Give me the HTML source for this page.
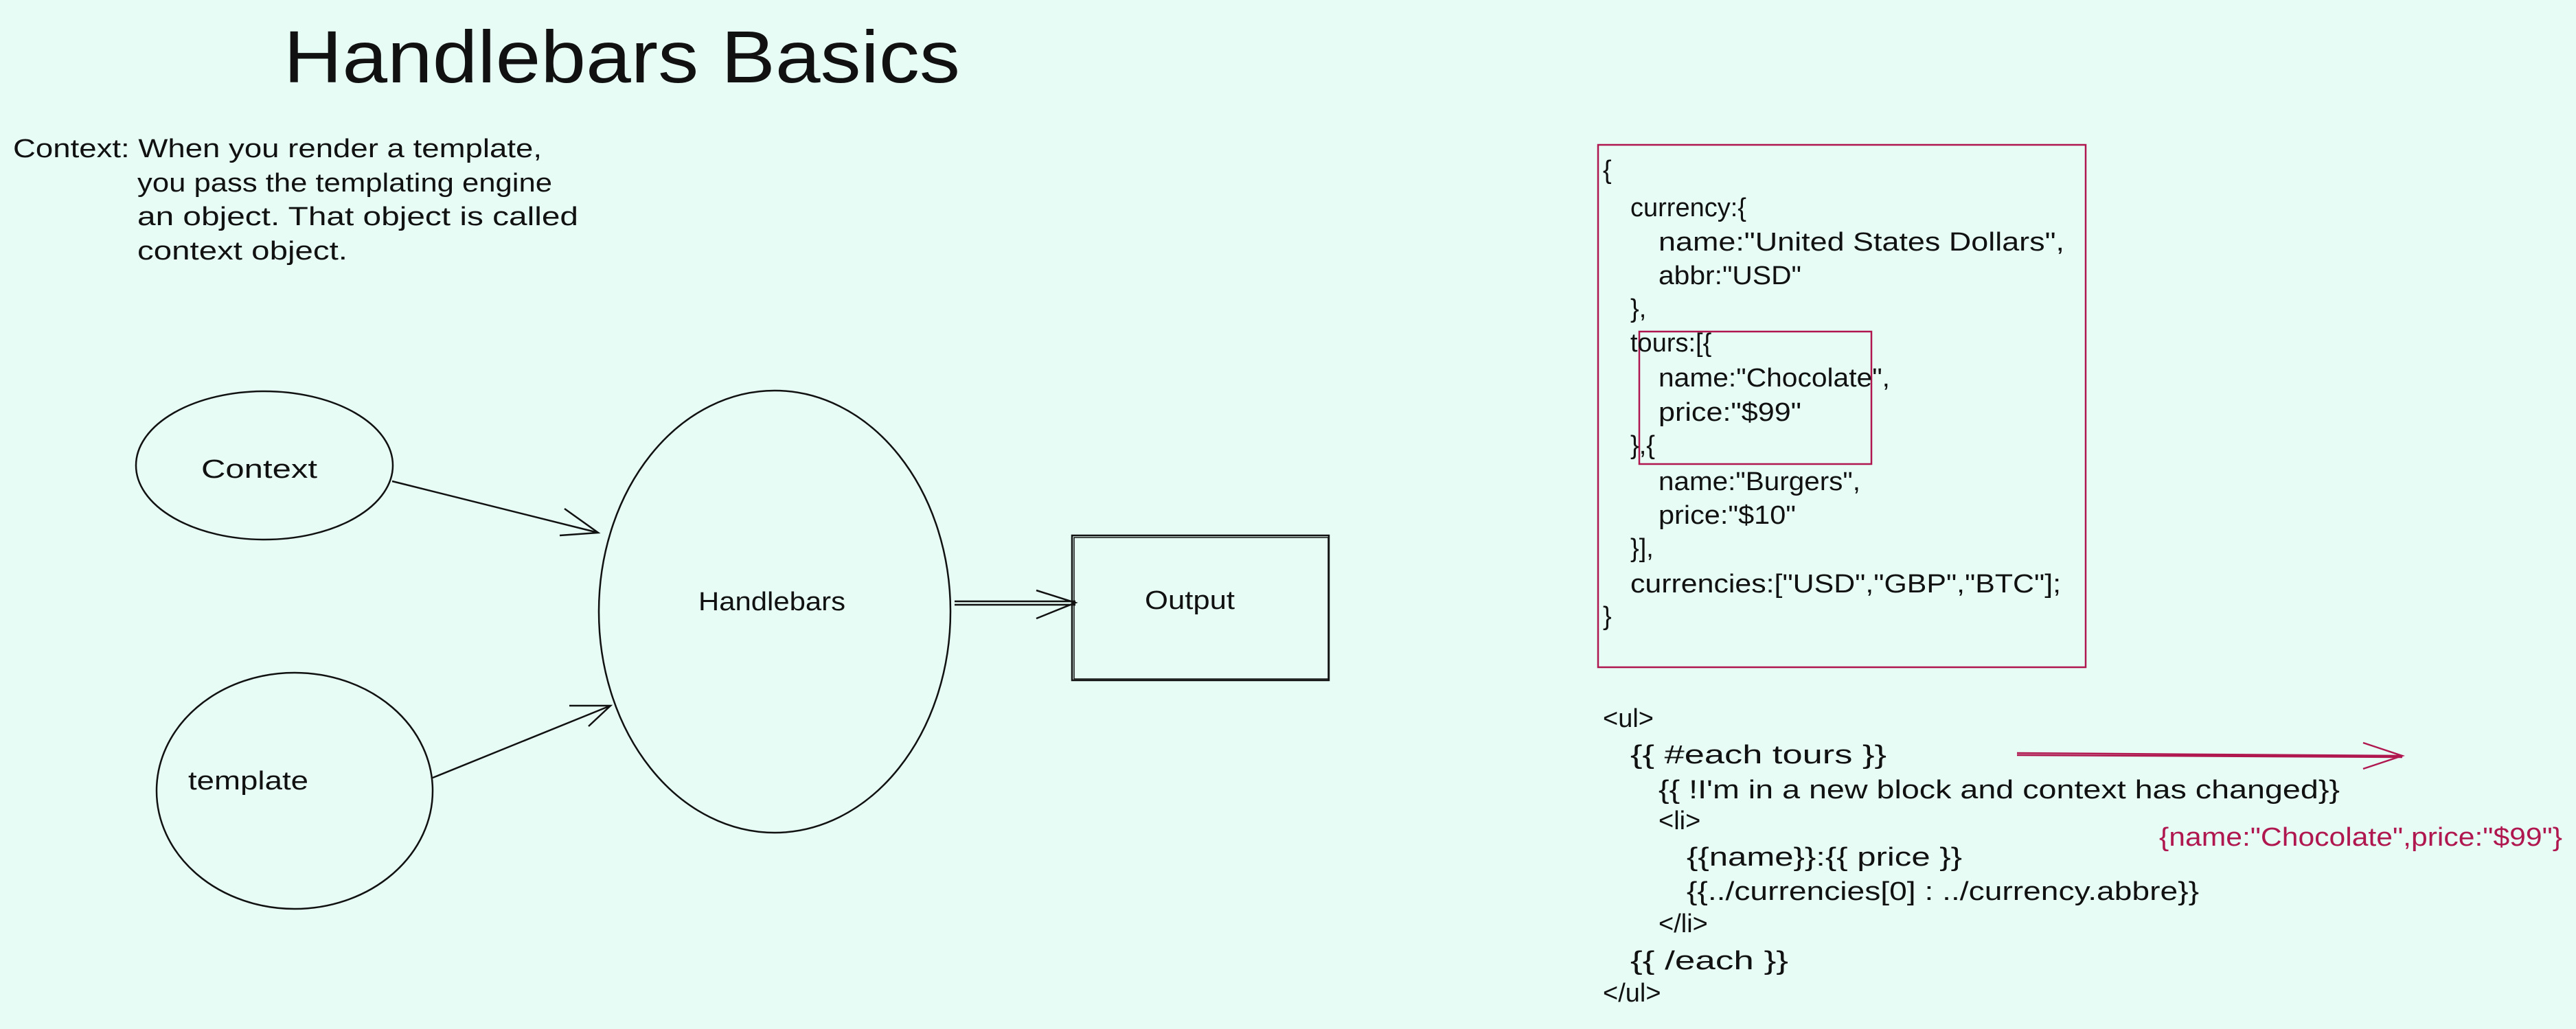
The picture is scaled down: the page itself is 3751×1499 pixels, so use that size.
<!DOCTYPE html>
<html><head><meta charset="utf-8"><style>
html,body{margin:0;padding:0;background:#e6fcf5;}
svg{display:block;}
text{font-family:"Liberation Sans",sans-serif;fill:#111;}
.c{font-size:38px;}
.r{fill:#b0174f;}
</style></head><body>
<svg width="3751" height="1499" viewBox="0 0 3751 1499" xmlns="http://www.w3.org/2000/svg">
<rect width="3751" height="1499" fill="#e6fcf5"/>
<text x="413" y="120" font-size="108" textLength="985" lengthAdjust="spacingAndGlyphs">Handlebars Basics</text>

<g font-size="38">
<text x="19" y="229" textLength="770" lengthAdjust="spacingAndGlyphs">Context: When you render a template,</text>
<text x="200" y="279" textLength="604" lengthAdjust="spacingAndGlyphs">you pass the templating engine</text>
<text x="200" y="328" textLength="642" lengthAdjust="spacingAndGlyphs">an object. That object is called</text>
<text x="200" y="378" textLength="306" lengthAdjust="spacingAndGlyphs">context object.</text>
</g>

<g fill="none" stroke="#111" stroke-width="2.5">
<ellipse cx="385" cy="678" rx="187" ry="108"/>
<ellipse cx="429" cy="1152" rx="201" ry="172"/>
<ellipse cx="1128" cy="891" rx="256" ry="322"/>
<rect x="1561" y="780" width="374" height="211"/>
<rect x="1564" y="783" width="370" height="206" stroke-width="1.5"/>
<path d="M571 701 L871 776 M822 741 L871 776 L815 780"/>
<path d="M630 1133 L889 1028 M829 1028 L889 1028 L857 1058"/>
<path d="M1390 876 L1566 876 M1390 881 L1566 881 M1509 860 L1566 878 L1509 901"/>
</g>

<g font-size="38">
<text x="293" y="696" textLength="169" lengthAdjust="spacingAndGlyphs">Context</text>
<text x="274" y="1150" textLength="175" lengthAdjust="spacingAndGlyphs">template</text>
<text x="1017" y="889" textLength="214" lengthAdjust="spacingAndGlyphs">Handlebars</text>
<text x="1667" y="887" textLength="131" lengthAdjust="spacingAndGlyphs">Output</text>
</g>

<g fill="none" stroke="#b0174f" stroke-width="2.5">
<rect x="2327" y="211" width="710" height="761"/>
<rect x="2387" y="483" width="338" height="193"/>
<path d="M2937 1097 L3498 1101 M2937 1100 L3498 1103 M3441 1082 L3498 1101 L3441 1120"/>
</g>

<g class="c">
<text x="2334" y="260">{</text>
<text x="2374" y="315">currency:{</text>
<text x="2415" y="365" textLength="591" lengthAdjust="spacingAndGlyphs">name:"United States Dollars",</text>
<text x="2415" y="414" textLength="208" lengthAdjust="spacingAndGlyphs">abbr:"USD"</text>
<text x="2374" y="462">},</text>
<text x="2374" y="512">tours:[{</text>
<text x="2415" y="563" textLength="337" lengthAdjust="spacingAndGlyphs">name:"Chocolate",</text>
<text x="2415" y="613" textLength="208" lengthAdjust="spacingAndGlyphs">price:"$99"</text>
<text x="2374" y="661">},{</text>
<text x="2415" y="714" textLength="294" lengthAdjust="spacingAndGlyphs">name:"Burgers",</text>
<text x="2415" y="763" textLength="200" lengthAdjust="spacingAndGlyphs">price:"$10"</text>
<text x="2374" y="811">}],</text>
<text x="2374" y="863" textLength="627" lengthAdjust="spacingAndGlyphs">currencies:["USD","GBP","BTC"];</text>
<text x="2334" y="910">}</text>

<text x="2334" y="1059">&lt;ul&gt;</text>
<text x="2374" y="1112" textLength="373" lengthAdjust="spacingAndGlyphs">{{ #each tours }}</text>
<text x="2415" y="1163" textLength="992" lengthAdjust="spacingAndGlyphs">{{ !I'm in a new block and context has changed}}</text>
<text x="2415" y="1208">&lt;li&gt;</text>
<text x="2456" y="1261" textLength="401" lengthAdjust="spacingAndGlyphs">{{name}}:{{ price }}</text>
<text x="2456" y="1311" textLength="746" lengthAdjust="spacingAndGlyphs">{{../currencies[0] : ../currency.abbre}}</text>
<text x="2415" y="1358">&lt;/li&gt;</text>
<text x="2374" y="1412" textLength="230" lengthAdjust="spacingAndGlyphs">{{ /each }}</text>
<text x="2334" y="1459">&lt;/ul&gt;</text>

<text class="r" x="3144" y="1232" textLength="587" lengthAdjust="spacingAndGlyphs">{name:"Chocolate",price:"$99"}</text>
</g>
</svg>
</body></html>
